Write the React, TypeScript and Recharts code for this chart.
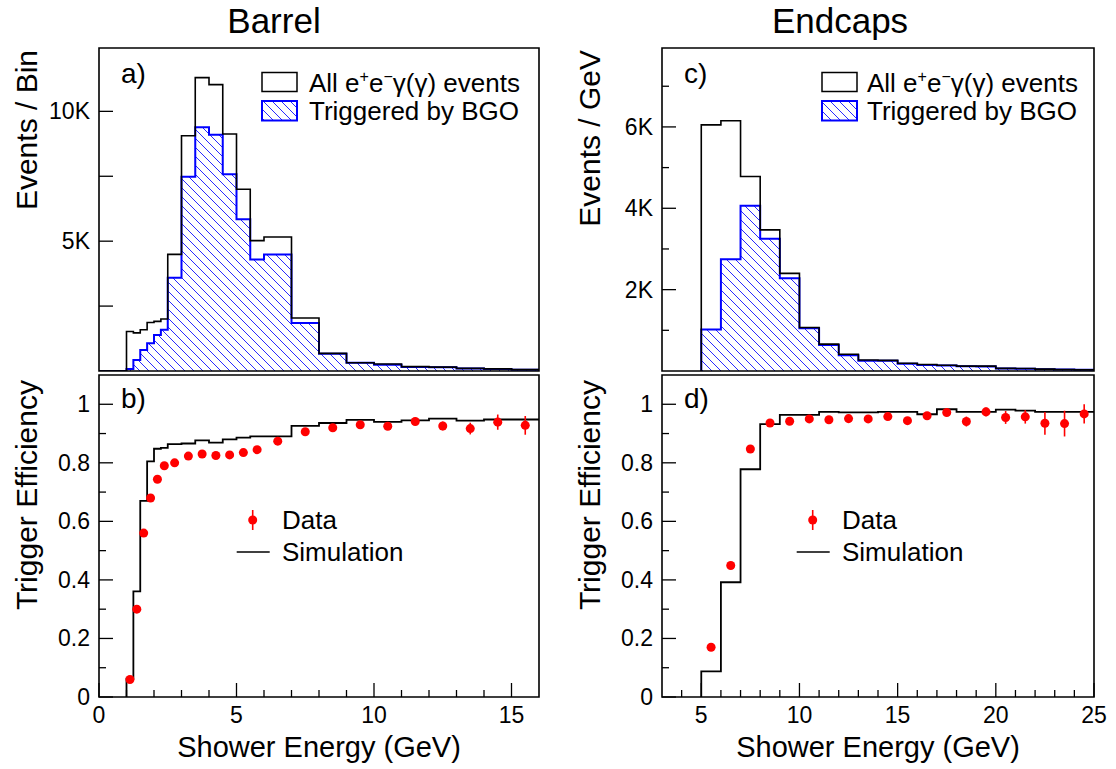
import React from "react";
import {
  ComposedChart,
  Area,
  Line,
  Scatter,
  ErrorBar,
  XAxis,
  YAxis,
  ReferenceArea,
} from "recharts";

const FONT = "'Liberation Sans', Arial, Helvetica, sans-serif";

// ---- Barrel (variable bin widths) ----
const barrelEdges = [1, 1.25, 1.5, 1.75, 2, 2.25, 2.5, 3, 3.5, 4, 4.5, 5, 5.5, 6, 7, 8, 9, 10, 11, 12, 13, 14, 15, 16];
const barrelAll = [1520, 1470, 1590, 1870, 1910, 2000, 4490, 9060, 11300, 11030, 9130, 7000, 5020, 5160, 2040, 680, 320, 270, 170, 150, 100, 80, 60];
const barrelTrig = [80, 420, 810, 1070, 1390, 1590, 3590, 7480, 9390, 9100, 7580, 5840, 4290, 4490, 1850, 660, 320, 240, 150, 140, 95, 75, 50];
const barrelSim = [0.0625, 0.361, 0.67, 0.805, 0.848, 0.851, 0.864, 0.866, 0.877, 0.869, 0.88, 0.886, 0.89, 0.89, 0.926, 0.936, 0.947, 0.94, 0.945, 0.951, 0.944, 0.948, 0.948];
const barrelEff = [0.06, 0.3, 0.56, 0.68, 0.744, 0.79, 0.8, 0.823, 0.83, 0.825, 0.827, 0.835, 0.845, 0.874, 0.906, 0.92, 0.93, 0.925, 0.941, 0.926, 0.917, 0.939, 0.928];
const barrelEffErr = [0.005, 0.006, 0.006, 0.006, 0.005, 0.005, 0.004, 0.003, 0.003, 0.003, 0.003, 0.004, 0.004, 0.004, 0.006, 0.008, 0.01, 0.011, 0.013, 0.015, 0.02, 0.026, 0.032];

// ---- Endcaps (1 GeV bins) ----
const endcapEdges = [5, 6, 7, 8, 9, 10, 11, 12, 13, 14, 15, 16, 17, 18, 19, 20, 21, 22, 23, 24, 25];
const endcapAll = [6050, 6150, 4780, 3470, 2400, 1070, 660, 410, 270, 260, 190, 160, 140, 120, 120, 65, 60, 45, 38, 32];
const endcapTrig = [1020, 2750, 4060, 3250, 2280, 1050, 640, 390, 250, 250, 180, 150, 135, 115, 110, 60, 55, 42, 35, 30];
const endcapSim = [0.0875, 0.392, 0.778, 0.932, 0.964, 0.964, 0.974, 0.972, 0.972, 0.974, 0.974, 0.966, 0.983, 0.974, 0.974, 0.982, 0.978, 0.974, 0.974, 0.974];
const endcapEff = [0.17, 0.449, 0.847, 0.936, 0.942, 0.95, 0.947, 0.951, 0.95, 0.958, 0.944, 0.961, 0.972, 0.941, 0.974, 0.955, 0.957, 0.935, 0.934, 0.967];
const endcapEffErr = [0.008, 0.006, 0.006, 0.005, 0.005, 0.005, 0.006, 0.007, 0.008, 0.009, 0.01, 0.012, 0.012, 0.017, 0.015, 0.022, 0.023, 0.039, 0.044, 0.033];

// ---- axis ticks ----
const barrelEnergyTicks = [0, 1, 2, 3, 4, 5, 6, 7, 8, 9, 10, 11, 12, 13, 14, 15];
const endcapEnergyTicks = [4, 5, 6, 7, 8, 9, 10, 11, 12, 13, 14, 15, 16, 17, 18, 19, 20, 21, 22, 23, 24, 25];
const barrelCountTicks = [2500, 5000, 7500, 10000];
const endcapCountTicks = [1000, 2000, 3000, 4000, 5000, 6000, 7000];
const effTicks = [0, 0.1, 0.2, 0.3, 0.4, 0.5, 0.6, 0.7, 0.8, 0.9, 1];

// step outline: starts at zero on the first edge, ends on the last edge
const histPoints = (edges: number[], vals: number[], from?: number) => {
  const pts: { x: number; y: number }[] = [];
  if (from !== undefined) pts.push({ x: from, y: 0 });
  pts.push({ x: edges[0], y: 0 });
  vals.forEach((v, i) => pts.push({ x: edges[i], y: v }));
  pts.push({ x: edges[edges.length - 1], y: vals[vals.length - 1] });
  return pts;
};

const pointsAtCenters = (edges: number[], vals: number[], errs: number[]) =>
  vals.map((v, i) => ({ x: (edges[i] + edges[i + 1]) / 2, y: v, err: errs[i] }));

const isMult = (v: number, step: number) => Math.abs(v / step - Math.round(v / step)) < 1e-6;

const makeXTick = (step: number, showLabel: boolean) => (props: any) => {
  const { x, y, payload } = props;
  const v = payload.value;
  const major = isMult(v, step);
  return (
    <g>
      <line x1={x} x2={x} y1={y} y2={y - (major ? 14 : 7)} stroke="#000" strokeWidth={1.3} />
      {showLabel && major ? (
        <text x={x} y={y + 26} textAnchor="middle" fontSize={23} fill="#000" fontFamily={FONT}>
          {v}
        </text>
      ) : null}
    </g>
  );
};

const makeYTick = (step: number, fmt: (v: number) => string) => (props: any) => {
  const { x, y, payload } = props;
  const v = payload.value;
  const major = isMult(v, step);
  return (
    <g>
      <line x1={x} x2={x + (major ? 14 : 7)} y1={y} y2={y} stroke="#000" strokeWidth={1.3} />
      {major ? (
        <text x={x - 9} y={y + 8} textAnchor="end" fontSize={23} fill="#000" fontFamily={FONT}>
          {fmt(v)}
        </text>
      ) : null}
    </g>
  );
};

const AXW = 60;
const RM = 20;

type HistProps = {
  plotLeft: number;
  plotWidth: number;
  xMin: number;
  xMax: number;
  xTicks: number[];
  yMax: number;
  yTicks: number[];
  yStep: number;
  yFmt: (v: number) => string;
  edges: number[];
  all: number[];
  trig: number[];
  lead?: number;
  pid: string;
};

function HistPanel(p: HistProps) {
  const allPts = histPoints(p.edges, p.all, p.lead);
  const trigPts = histPoints(p.edges, p.trig, p.lead);
  return (
    <div style={{ position: "absolute", left: p.plotLeft - AXW, top: 0 }}>
      <ComposedChart
        width={AXW + p.plotWidth + RM}
        height={380}
        margin={{ top: 48, right: RM, bottom: 9, left: 0 }}
      >
        <defs>
          <pattern id={p.pid} patternUnits="userSpaceOnUse" width={9} height={9}>
            <path d="M-1,-1 L10,10 M-1,8 L1,10 M8,-1 L10,1" stroke="#2a2aff" strokeWidth={1} />
          </pattern>
        </defs>
        <XAxis
          dataKey="x"
          type="number"
          domain={[p.xMin, p.xMax]}
          allowDataOverflow
          ticks={p.xTicks}
          interval={0}
          height={0}
          tickSize={0}
          tickMargin={0}
          axisLine={false}
          tick={makeXTick(5, false)}
        />
        <YAxis
          type="number"
          domain={[0, p.yMax]}
          allowDataOverflow
          ticks={p.yTicks}
          interval={0}
          width={AXW}
          tickSize={0}
          tickMargin={0}
          axisLine={false}
          tick={makeYTick(p.yStep, p.yFmt)}
        />
        <Line
          data={allPts}
          dataKey="y"
          type="stepAfter"
          stroke="#000"
          strokeWidth={1.6}
          dot={false}
          activeDot={false}
          isAnimationActive={false}
        />
        <Area
          data={trigPts}
          dataKey="y"
          type="stepAfter"
          stroke="#0000ff"
          strokeWidth={2}
          fill={`url(#${p.pid})`}
          fillOpacity={1}
          dot={false}
          activeDot={false}
          isAnimationActive={false}
        />
        <ReferenceArea
          x1={p.xMin}
          x2={p.xMax}
          y1={0}
          y2={p.yMax}
          fill="none"
          stroke="#000"
          strokeWidth={1.6}
          ifOverflow="visible"
        />
      </ComposedChart>
    </div>
  );
}

type EffProps = {
  plotLeft: number;
  plotWidth: number;
  xMin: number;
  xMax: number;
  xTicks: number[];
  edges: number[];
  sim: number[];
  eff: number[];
  err: number[];
};

function EffPanel(p: EffProps) {
  const simPts = histPoints(p.edges, p.sim);
  const dataPts = pointsAtCenters(p.edges, p.eff, p.err);
  return (
    <div style={{ position: "absolute", left: p.plotLeft - AXW, top: 360 }}>
      <ComposedChart
        width={AXW + p.plotWidth + RM}
        height={377}
        margin={{ top: 15, right: RM, bottom: 0, left: 0 }}
      >
        <XAxis
          dataKey="x"
          type="number"
          domain={[p.xMin, p.xMax]}
          allowDataOverflow
          ticks={p.xTicks}
          interval={0}
          height={40}
          tickSize={0}
          tickMargin={0}
          axisLine={false}
          tick={makeXTick(5, true)}
        />
        <YAxis
          type="number"
          domain={[0, 1.1]}
          allowDataOverflow
          ticks={effTicks}
          interval={0}
          width={AXW}
          tickSize={0}
          tickMargin={0}
          axisLine={false}
          tick={makeYTick(0.2, (v) => String(+v.toFixed(1)))}
        />
        <Line
          data={simPts}
          dataKey="y"
          type="stepAfter"
          stroke="#000"
          strokeWidth={1.8}
          dot={false}
          activeDot={false}
          isAnimationActive={false}
        />
        <Scatter data={dataPts} dataKey="y" fill="#ff0000" isAnimationActive={false}>
          <ErrorBar dataKey="err" direction="y" width={0} stroke="#ff0000" strokeWidth={1.6} />
        </Scatter>
        <ReferenceArea
          x1={p.xMin}
          x2={p.xMax}
          y1={0}
          y2={1.1}
          fill="none"
          stroke="#000"
          strokeWidth={1.6}
          ifOverflow="visible"
        />
      </ComposedChart>
    </div>
  );
}

const HistLegend = ({ bx, tx }: { bx: number; tx: number }) => (
  <g fontSize={26}>
    <rect x={bx} y={72.5} width={35} height={19} fill="none" stroke="#000" strokeWidth={1.5} />
    <text x={tx} y={91.5}>
      All e<tspan dy={-10} fontSize={16}>+</tspan>
      <tspan dy={10}>e</tspan>
      <tspan dy={-10} fontSize={16}>−</tspan>
      <tspan dy={10}>γ(γ) events</tspan>
    </text>
    <rect x={bx} y={101} width={35} height={19.5} fill="url(#legHatch)" stroke="#0000ff" strokeWidth={2} />
    <text x={tx} y={120}>Triggered by BGO</text>
  </g>
);

const EffLegend = ({ mx, tx }: { mx: number; tx: number }) => (
  <g fontSize={26}>
    <line x1={mx} x2={mx} y1={510} y2={530} stroke="#ff0000" strokeWidth={1.6} />
    <circle cx={mx} cy={520} r={4.5} fill="#ff0000" />
    <text x={tx} y={529}>Data</text>
    <line x1={mx - 16} x2={mx + 17} y1={552} y2={552} stroke="#000" strokeWidth={1.6} />
    <text x={tx} y={561}>Simulation</text>
  </g>
);

export default function App() {
  return (
    <div
      style={{
        position: "absolute",
        left: 0,
        top: 0,
        width: 1116,
        height: 769,
        background: "#fff",
        fontFamily: FONT,
        overflow: "hidden",
      }}
    >
      <HistPanel
        plotLeft={99}
        plotWidth={440}
        xMin={0}
        xMax={16}
        xTicks={barrelEnergyTicks}
        yMax={12440}
        yTicks={barrelCountTicks}
        yStep={2500}
        yFmt={(v) => (isMult(v, 5000) ? `${v / 1000}K` : "")}
        edges={barrelEdges}
        all={barrelAll}
        trig={barrelTrig}
        lead={0}
        pid="hatchBarrel"
      />
      <HistPanel
        plotLeft={662}
        plotWidth={432}
        xMin={3}
        xMax={25}
        xTicks={endcapEnergyTicks}
        yMax={7940}
        yTicks={endcapCountTicks}
        yStep={2000}
        yFmt={(v) => `${v / 1000}K`}
        edges={endcapEdges}
        all={endcapAll}
        trig={endcapTrig}
        pid="hatchEndcap"
      />
      <EffPanel
        plotLeft={99}
        plotWidth={440}
        xMin={0}
        xMax={16}
        xTicks={barrelEnergyTicks}
        edges={barrelEdges}
        sim={barrelSim}
        eff={barrelEff}
        err={barrelEffErr}
      />
      <EffPanel
        plotLeft={662}
        plotWidth={432}
        xMin={3}
        xMax={25}
        xTicks={endcapEnergyTicks}
        edges={endcapEdges}
        sim={endcapSim}
        eff={endcapEff}
        err={endcapEffErr}
      />
      <svg
        width={1116}
        height={769}
        style={{ position: "absolute", left: 0, top: 0, pointerEvents: "none" }}
        fontFamily={FONT}
        fill="#000"
      >
        <defs>
          <pattern id="legHatch" patternUnits="userSpaceOnUse" width={9} height={9}>
            <path d="M-1,-1 L10,10 M-1,8 L1,10 M8,-1 L10,1" stroke="#2a2aff" strokeWidth={1} />
          </pattern>
        </defs>
        <text x={274} y={33} fontSize={35} textAnchor="middle">Barrel</text>
        <text x={840} y={33} fontSize={35} textAnchor="middle">Endcaps</text>

        <text transform="translate(37,50) rotate(-90)" fontSize={30} textAnchor="end">Events / Bin</text>
        <text transform="translate(37,380) rotate(-90)" fontSize={30} textAnchor="end">Trigger Efficiency</text>
        <text transform="translate(600,50) rotate(-90)" fontSize={30} textAnchor="end">Events / GeV</text>
        <text transform="translate(600,380) rotate(-90)" fontSize={30} textAnchor="end">Trigger Efficiency</text>

        <text x={319} y={757} fontSize={29} textAnchor="middle">Shower Energy (GeV)</text>
        <text x={878} y={757} fontSize={29} textAnchor="middle">Shower Energy (GeV)</text>

        <text x={121} y={83} fontSize={28}>a)</text>
        <text x={121} y={408} fontSize={28}>b)</text>
        <text x={684} y={83} fontSize={28}>c)</text>
        <text x={684} y={408} fontSize={28}>d)</text>

        <HistLegend bx={262} tx={309} />
        <HistLegend bx={822} tx={867} />
        <EffLegend mx={252.7} tx={282} />
        <EffLegend mx={812.7} tx={842} />
      </svg>
    </div>
  );
}
